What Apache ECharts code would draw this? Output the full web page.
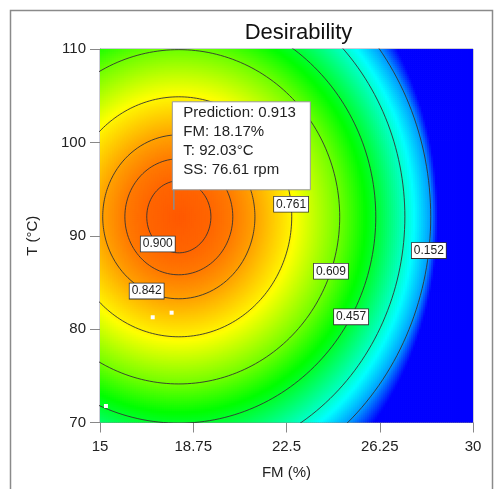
<!DOCTYPE html>
<html><head><meta charset="utf-8">
<script src="https://cdn.jsdelivr.net/npm/echarts@6/dist/echarts.min.js"></script>
<style>html,body{margin:0;padding:0;background:#fff}#c{width:494px;height:489px}</style>
</head><body><div id="c"></div>
<script>
// ---- data ----
const xTicks = [15, 18.75, 22.5, 26.25, 30];
const yTicks = [70, 80, 90, 100, 110];
const optimum = [18.17, 92.03];            // FM (%), T (°C) of the prediction flag
const prediction = { D: 0.913, FM: 18.17, T: 92.03, SS: 76.61 };
// contour levels (last one = edge of the zero-desirability region) and their semi-axes
const contourLevels = [0.900, 0.880, 0.842, 0.761, 0.609, 0.457, 0.304, 0.152, 0];
const contourRxFM  = [1.29, 2.17, 3.06, 4.54, 6.47, 7.92, 9.09, 10.13, 10.41];
const contourRyT   = [3.86, 6.21, 8.78, 12.85, 17.9, 22.1, 26.2, 29.7, 33.5];
const labeledLevels = ['0.900', '0.842', '0.761', '0.609', '0.457', '0.152'];
const labelAngles   = [229, 245, 6, -19, -29, -7];
const designFM = [17.12, 17.88, 15.24];
const designT  = [81.27, 81.76, 71.77];

// ---- surface from the contour description ----
function desir(x, y) {
  const dx = x - optimum[0], dy = y - optimum[1];
  if (dx === 0 && dy === 0) return prediction.D;
  let prevRho = 0, prevLev = prediction.D;
  for (let k = 0; k < contourLevels.length; k++) {
    const e = Math.sqrt((dx / contourRxFM[k]) ** 2 + (dy / contourRyT[k]) ** 2);
    const rho = 1 / e;
    if (rho >= 1) {
      const t = (1 - prevRho) / (rho - prevRho);
      return prevLev + t * (contourLevels[k] - prevLev);
    }
    prevRho = rho; prevLev = contourLevels[k];
  }
  return 0;
}
const xMin = xTicks[0], xMax = xTicks[xTicks.length - 1];
const yMin = yTicks[0], yMax = yTicks[yTicks.length - 1];
const NX = 187, NY = 187;
const cw = (xMax - xMin) / NX, ch = (yMax - yMin) / NY;
const cells = [];
for (let i = 0; i < NX; i++) for (let j = 0; j < NY; j++) {
  const x = xMin + (i + 0.5) * cw, y = yMin + (j + 0.5) * ch;
  cells.push([x, y, desir(x, y)]);
}
function ellipse(k) {
  const pts = [];
  for (let a = 0; a <= 360; a += 1.5) {
    const r = a * Math.PI / 180;
    pts.push([optimum[0] + contourRxFM[k] * Math.cos(r), optimum[1] + contourRyT[k] * Math.sin(r)]);
  }
  return pts;
}
const lineSeries = [];
for (let k = 0; k < contourLevels.length - 1; k++) {
  lineSeries.push({
    type: 'line', data: ellipse(k), symbol: 'none', clip: true, silent: true, z: 3,
    lineStyle: { color: '#333', width: 0.9 }, animation: false
  });
}
const labelData = labeledLevels.map((s, i) => {
  const k = contourLevels.findIndex(v => v.toFixed(3) === s);
  const r = labelAngles[i] * Math.PI / 180;
  return { value: [optimum[0] + contourRxFM[k] * Math.cos(r), optimum[1] + contourRyT[k] * Math.sin(r)], name: s };
});

const FONT = '"Liberation Sans", Arial, sans-serif';
const chart = echarts.init(document.getElementById('c'), null, { renderer: 'canvas' });
const option = {
  animation: false,
  backgroundColor: '#fff',
  grid: { left: 100, top: 49, width: 373, height: 373.5, show: true, borderColor: '#9a9ab0', borderWidth: 1 },
  visualMap: {
    show: false, type: 'continuous', min: 0, max: 1, dimension: 2, seriesIndex: 0,
    inRange: { color: ['#0000FF', '#00FFFF', '#00FF00', '#FFFF00', '#FF0000'] }
  },
  xAxis: {
    type: 'value', min: xMin, max: xMax, interval: 3.75,
    axisLine: { show: true, onZero: false, lineStyle: { color: '#888', width: 1 } },
    axisTick: { show: true, length: 10, lineStyle: { color: '#888' } },
    axisLabel: { fontSize: 15, color: '#222', margin: 17, fontFamily: FONT, formatter: v => String(v) },
    splitLine: { show: false },
    name: 'FM (%)', nameLocation: 'middle', nameGap: 43,
    nameTextStyle: { fontSize: 15, color: '#222', fontFamily: FONT }
  },
  yAxis: {
    type: 'value', min: yMin, max: yMax, interval: 10,
    axisLine: { show: true, onZero: false, lineStyle: { color: '#888', width: 1 } },
    axisTick: { show: true, length: 10, lineStyle: { color: '#888' } },
    axisLabel: { fontSize: 15, color: '#222', margin: 14, fontFamily: FONT },
    splitLine: { show: false },
    name: 'T (°C)', nameLocation: 'middle', nameGap: 60,
    nameTextStyle: { fontSize: 15, color: '#222', fontFamily: FONT }
  },
  series: [
    {
      type: 'custom', data: cells, encode: { x: 0, y: 1 }, clip: true, silent: true,
      progressive: 0, animation: false, z: 1,
      renderItem(params, api) {
        const x = api.value(0), y = api.value(1);
        const p0 = api.coord([x - cw / 2, y + ch / 2]);
        const p1 = api.coord([x + cw / 2, y - ch / 2]);
        return { type: 'rect', shape: { x: p0[0], y: p0[1], width: p1[0] - p0[0] + 0.7, height: p1[1] - p0[1] + 0.7 },
                 style: { fill: api.visual('color') } };
      }
    },
    ...lineSeries,
    {
      type: 'scatter', data: designFM.map((v, i) => [v, designT[i]]), symbol: 'rect', symbolSize: 4,
      itemStyle: { color: '#ffffff', opacity: 1 }, z: 4, silent: true
    },
    {
      type: 'scatter', data: labelData, symbolSize: 1, itemStyle: { color: 'rgba(0,0,0,0)', opacity: 1 }, z: 5, silent: true,
      label: {
        show: true, position: 'inside', formatter: p => p.name, fontSize: 12, color: '#222', fontFamily: FONT,
        backgroundColor: '#ffffff', borderColor: '#333', borderWidth: 0.8, padding: [2, 2, 1, 2], opacity: 1
      }
    }
  ]
};
chart.setOption(option);

const p = chart.convertToPixel({ xAxisIndex: 0, yAxisIndex: 0 }, [prediction.FM, prediction.T]);
const bx = p[0] - 6.5, by = p[1] - 115, bw = 138, bh = 88;
const lines = [
  'Prediction: ' + prediction.D.toFixed(3),
  'FM: ' + prediction.FM.toFixed(2) + '%',
  'T: ' + prediction.T.toFixed(2) + '°C',
  'SS: ' + prediction.SS.toFixed(2) + ' rpm'
];
const g = [
  { type: 'rect', shape: { x: 10.5, y: 10.5, width: 482, height: 495 }, style: { fill: 'none', stroke: '#8a8a8a', lineWidth: 1.5 }, z: 0, silent: true },
  { type: 'text', x: 298.5, y: 22, style: { text: 'Desirability', font: '22px ' + FONT, fill: '#111', align: 'center', verticalAlign: 'top', textAlign: 'center', textVerticalAlign: 'top' }, z: 10 },
  { type: 'line', shape: { x1: p[0] - 5, y1: by + bh, x2: p[0] - 5, y2: p[1] - 7 }, style: { stroke: '#8c8c8c', lineWidth: 1.5 }, z: 10 },
  { type: 'rect', shape: { x: bx, y: by, width: bw, height: bh }, style: { fill: '#fff', stroke: '#999', lineWidth: 1 }, z: 11 }
];
lines.forEach((t, i) => {
  g.push({ type: 'text', x: bx + 11, y: by + 11.5 + i * 18.7,
    style: { text: t, font: '15px ' + FONT, fill: '#222', align: 'left', verticalAlign: 'middle', textAlign: 'left', textVerticalAlign: 'middle' }, z: 12 });
});
chart.setOption({ graphic: g });
</script>
</body></html>
